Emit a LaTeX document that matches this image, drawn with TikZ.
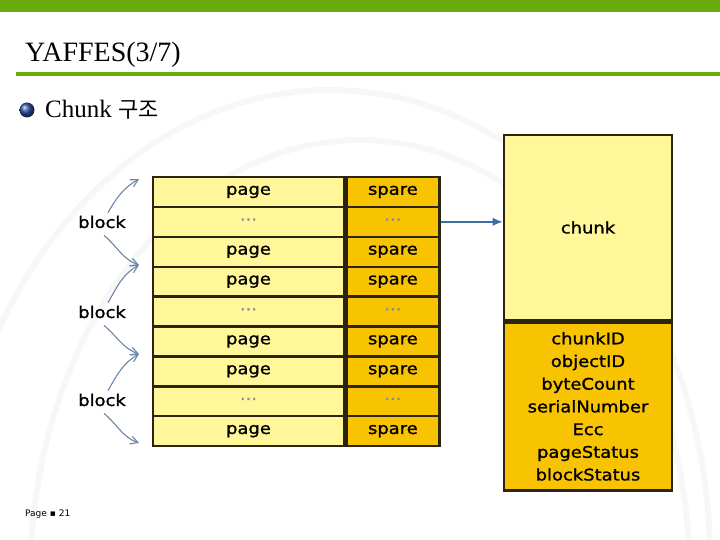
\documentclass[tikz,border=0pt]{standalone}
\usepackage{fontspec}
\setmainfont{Liberation Serif}
\newfontfamily\dgfont[FakeStretch=1.12,FakeBold=1.2]{DejaVu Sans}
\newfontfamily\ftfont{DejaVu Sans}
\newfontfamily\krfont{Noto Sans CJK KR}
\usetikzlibrary{positioning,arrows.meta,calc}
\definecolor{barGreen}{HTML}{6AAA0C}
\definecolor{pageYellow}{HTML}{FFF79A}
\definecolor{spareGold}{HTML}{F8C300}
\definecolor{cellLine}{HTML}{2B2410}
\definecolor{arrBlue}{HTML}{3C6EA5}
\definecolor{blkArrow}{HTML}{6A86A6}
\definecolor{bulletBlue}{HTML}{2A4C9C}
\newcommand{\dts}{\textcolor{black!45}{···}}
\tikzset{
  x=1pt,y=-1pt,
  swoosh/.style={line width=6pt,black!3},
  pagecell/.style={draw=cellLine,line width=2.4pt,fill=pageYellow,
    minimum width=191pt,minimum height=29.9pt,inner sep=0pt,
    font=\dgfont\fontsize{16}{18}\selectfont},
  sparecell/.style={pagecell,fill=spareGold,minimum width=93pt},
  chunkhd/.style={pagecell,minimum width=168pt,minimum height=185pt},
  chunkft/.style={chunkhd,fill=spareGold,minimum height=168pt,align=center,
    font=\dgfont\fontsize{16}{22.7}\selectfont},
  blklbl/.style={font=\dgfont\fontsize{16}{18}\selectfont,inner sep=3pt},
  blkarr/.style={-{Straight Barb[length=2.6mm,width=2.8mm]},blkArrow,line width=1.1pt},
  tblarrow/.style={-{Latex[length=3.6mm,width=3mm]},arrBlue,line width=1.6pt},
}
\begin{document}
\begin{tikzpicture}
  \useasboundingbox (0,0) rectangle (720,540);
  % faint background swooshes
  \begin{scope}
    \clip (0,0) rectangle (720,540);
    \draw[swoosh] (330,560) ellipse [x radius=380, y radius=470];
    \draw[swoosh] (360,580) ellipse [x radius=330, y radius=440];
  \end{scope}
  % header
  \fill[barGreen] (0,0) rectangle (720,12);
  \node[anchor=base west,inner sep=0pt] (ttl) at (25,62)
    {\fontsize{28}{30}\selectfont YAFFES(3/7)};
  \draw[barGreen,line width=4pt] (16,74) -- (720,74);
  \shade[ball color=bulletBlue] (27,110) circle [radius=7.5];
  \node[anchor=west,inner sep=0pt] (sub) at (45,110)
    {\fontsize{25}{28}\selectfont Chunk {\krfont\fontsize{22}{26}\selectfont 구조}};
  % pages and spare areas
  \foreach \pl/\sl [count=\i] in {page/spare,\dts/\dts,page/spare,page/spare,
      \dts/\dts,page/spare,page/spare,\dts/\dts,page/spare}{
    \node[pagecell] (p\i) at (248.5,{177+29.9*(\i-0.5)}) {\pl};
    \node[sparecell,right=0pt of p\i] (s\i) {\sl};
  }
  % chunk layout
  \node[chunkhd] (chd) at (588,227.5) {chunk};
  \node[chunkft,below=0pt of chd] (cft)
    {chunkID\\objectID\\byteCount\\serialNumber\\Ecc\\pageStatus\\blockStatus};
  \draw[tblarrow] (s2.east) -- (s2.east -| chd.west);
  % blocks
  \node[blklbl] (blk1) at (102,222) {block};
  \node[blklbl] (blk2) at (102,312) {block};
  \node[blklbl] (blk3) at (102,400) {block};
  \coordinate (e0) at (139,179);
  \coordinate (e1) at (139,265);
  \coordinate (e2) at (139,354);
  \coordinate (e3) at (139,443);
  \foreach \b/\u/\d [count=\k] in {blk1/e0/e1,blk2/e1/e2,blk3/e2/e3}{
    \draw[blkarr] ([xshift=6pt]\b.north) to[out=60,in=210] (\u);
    \draw[blkarr] ([xshift=2pt,yshift=-4pt]\b.south) to[out=-40,in=160] (\d);
  }
  % footer
  \node[anchor=base west,inner sep=0pt] (pg) at (25,516)
    {\ftfont\fontsize{9}{10}\selectfont Page ▪ 21};
\end{tikzpicture}
\end{document}
